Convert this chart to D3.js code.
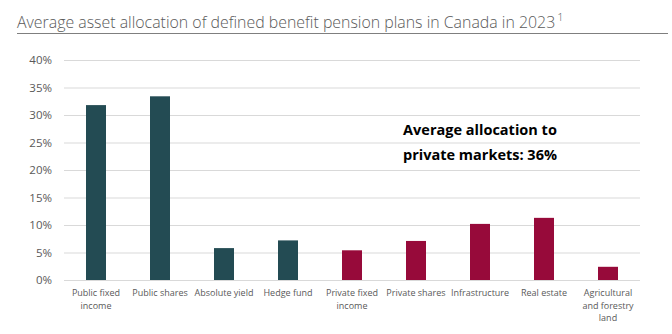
<!DOCTYPE html>
<html><head><meta charset="utf-8">
<script src="https://cdn.jsdelivr.net/npm/d3@7"></script>
<style>body{margin:0;background:#fff}svg{display:block}</style>
</head><body>
<svg id="c" width="672" height="334"></svg>
<script>
const categories = [
  ["Public fixed","income"],
  ["Public shares"],
  ["Absolute yield"],
  ["Hedge fund"],
  ["Private fixed","income"],
  ["Private shares"],
  ["Infrastructure"],
  ["Real estate"],
  ["Agricultural","and forestry","land"]
];
const values = [31.8, 33.4, 5.8, 7.2, 5.4, 7.1, 10.2, 11.3, 2.4];
const groups = ["public","public","public","public","private","private","private","private","private"];
const yTicks = [0,5,10,15,20,25,30,35,40];
const titleText = "Average asset allocation of defined benefit pension plans in Canada in 2023";
const titleNote = "1";
const noteLines = ["Average allocation to","private markets: 36%"];

const colors = {public:"#234B53", private:"#970A3A"};
const svg = d3.select("#c");
const L=64, R=640, T=60, B=280;
const x = d3.scaleBand().domain(d3.range(categories.length)).range([L,R]).paddingInner(0.6875).paddingOuter(0.34375);
const y = d3.scaleLinear().domain([0,40]).range([B,T]);

// title
const tt = svg.append("text").attr("x",17).attr("y",28)
  .attr("font-family","'Open Sans', sans-serif").attr("font-weight",300)
  .attr("font-size",15.9).attr("fill","#595959").text(titleText);
const tw = tt.node().getComputedTextLength();
svg.append("text").attr("x",17+tw+2).attr("y",21)
  .attr("font-family","'Open Sans', sans-serif").attr("font-weight",300)
  .attr("font-size",11).attr("fill","#595959").text(titleNote);
svg.append("line").attr("x1",17).attr("x2",668).attr("y1",33.5).attr("y2",33.5)
  .attr("stroke","#7f7f7f").attr("stroke-width",1);

// grid
const yAxis = d3.axisLeft(y).tickValues(yTicks).tickFormat(d=>d+"%").tickSize(-(R-L)).tickPadding(12);
const ga = svg.append("g").attr("transform",`translate(${L},0)`).call(yAxis);
ga.select(".domain").remove();
ga.selectAll(".tick line").attr("stroke","#d9d9d9").attr("stroke-width",1);
ga.selectAll(".tick text").attr("fill","#595959").attr("font-size",11.5)
  .attr("font-family","'Open Sans', sans-serif");

// bars
svg.append("g").selectAll("rect").data(values).join("rect")
  .attr("x",(d,i)=>x(i)).attr("width",x.bandwidth())
  .attr("y",d=>y(d)).attr("height",d=>y(0)-y(d))
  .attr("fill",(d,i)=>colors[groups[i]]);

// category labels
const xl = svg.append("g");
categories.forEach((lines,i)=>{
  const tx = xl.append("text").attr("text-anchor","middle")
    .attr("font-family","'Open Sans', sans-serif").attr("font-size",9)
    .attr("fill","#595959");
  lines.forEach((ln,j)=>{
    tx.append("tspan").attr("x",x(i)+x.bandwidth()/2).attr("y",296+j*12.6).text(ln);
  });
});

// annotation
const n = svg.append("text").attr("text-anchor","middle")
  .attr("font-family","'Open Sans', sans-serif").attr("font-weight",700)
  .attr("font-size",14.5).attr("fill","#000");
noteLines.forEach((ln,j)=>n.append("tspan").attr("x",480).attr("y",135+j*24.5).text(ln));
</script>
</body></html>
